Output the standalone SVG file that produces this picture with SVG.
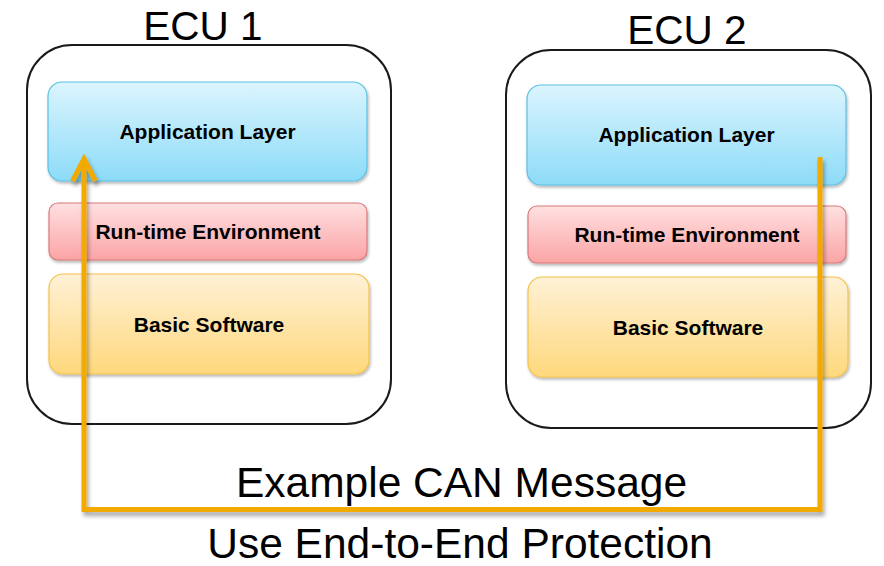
<svg xmlns="http://www.w3.org/2000/svg" width="884" height="566" viewBox="0 0 884 566">
  <style>
    .ecu { fill: #ffffff; stroke: #1a1a1a; stroke-width: 2; }
    .title { font-family: "Liberation Sans", Arial, sans-serif; font-size: 40.5px; fill: #000; text-anchor: middle; }
    .layer-text { font-family: "Liberation Sans", Arial, sans-serif; font-size: 21px; font-weight: bold; fill: #000; text-anchor: middle; }
    .caption { font-family: "Liberation Sans", Arial, sans-serif; font-size: 42.5px; fill: #000; text-anchor: middle; }
    .app { fill: url(#gApp); stroke: #5cc0e4; stroke-width: 1.2; filter: url(#shadow); }
    .rte { fill: url(#gRte); stroke: #d9797b; stroke-width: 1.2; filter: url(#shadow); }
    .bsw { fill: url(#gBsw); stroke: #f4c24a; stroke-width: 1.2; filter: url(#shadow); }
    .msg { fill: none; stroke: #f2a900; stroke-width: 5; stroke-linejoin: miter; filter: url(#lineShadow); }
  </style>
  <defs>
    <linearGradient id="gApp" x1="0" y1="0" x2="0" y2="1">
      <stop offset="0" stop-color="#dbf5fe"/>
      <stop offset="1" stop-color="#8ddbf8"/>
    </linearGradient>
    <linearGradient id="gRte" x1="0" y1="0" x2="0" y2="1">
      <stop offset="0" stop-color="#ffe0e1"/>
      <stop offset="1" stop-color="#fba4a5"/>
    </linearGradient>
    <linearGradient id="gBsw" x1="0" y1="0" x2="0" y2="1">
      <stop offset="0" stop-color="#fff1d6"/>
      <stop offset="1" stop-color="#fed87c"/>
    </linearGradient>
    <filter id="shadow" x="-5%" y="-10%" width="110%" height="125%">
      <feGaussianBlur in="SourceAlpha" stdDeviation="1.5"/>
      <feOffset dx="1" dy="2" result="b"/>
      <feComponentTransfer><feFuncA type="linear" slope="0.3"/></feComponentTransfer>
      <feMerge><feMergeNode/><feMergeNode in="SourceGraphic"/></feMerge>
    </filter>
    <filter id="lineShadow" x="-5%" y="-5%" width="110%" height="115%">
      <feGaussianBlur in="SourceAlpha" stdDeviation="2"/>
      <feOffset dx="2" dy="4" result="b"/>
      <feComponentTransfer><feFuncA type="linear" slope="0.35"/></feComponentTransfer>
      <feMerge><feMergeNode/><feMergeNode in="SourceGraphic"/></feMerge>
    </filter>
    <!-- open chevron arrowhead, pointing along the path direction -->
    <marker id="openArrow" markerUnits="userSpaceOnUse" markerWidth="34" markerHeight="34" refX="22" refY="15" orient="auto" viewBox="0 0 34 34">
      <path d="M2 3.5 L24 15 L2 26.5" fill="none" stroke="#f2a900" stroke-width="5" stroke-linejoin="miter"/>
    </marker>
  </defs>

  <!-- ECU 1 -->
  <g id="ecu1">
    <rect class="ecu" x="27" y="45" width="364" height="379" rx="45" ry="45"/>
    <text class="title" x="203" y="40">ECU 1</text>
    <g id="ecu1-app">
      <rect class="app" x="48" y="82" width="319" height="99" rx="14"/>
      <text class="layer-text" x="207.5" y="139">Application Layer</text>
    </g>
    <g id="ecu1-rte">
      <rect class="rte" x="49" y="203" width="318" height="57" rx="9"/>
      <text class="layer-text" x="208" y="239">Run-time Environment</text>
    </g>
    <g id="ecu1-bsw">
      <rect class="bsw" x="49" y="274" width="320" height="100" rx="14"/>
      <text class="layer-text" x="209" y="332">Basic Software</text>
    </g>
  </g>

  <!-- ECU 2 -->
  <g id="ecu2">
    <rect class="ecu" x="506" y="50" width="365" height="378" rx="45" ry="45"/>
    <text class="title" x="687" y="44">ECU 2</text>
    <g id="ecu2-app">
      <rect class="app" x="527" y="85" width="319" height="100" rx="14"/>
      <text class="layer-text" x="686.5" y="142">Application Layer</text>
    </g>
    <g id="ecu2-rte">
      <rect class="rte" x="528" y="206" width="318" height="57" rx="9"/>
      <text class="layer-text" x="687" y="242">Run-time Environment</text>
    </g>
    <g id="ecu2-bsw">
      <rect class="bsw" x="528" y="277" width="320" height="100" rx="14"/>
      <text class="layer-text" x="688" y="335">Basic Software</text>
    </g>
  </g>

  <!-- message path from ECU 2 application layer to ECU 1 application layer -->
  <g id="connectors">
    <path class="msg" d="M820 157 L820 509.5 L84 509.5 L84 161" marker-end="url(#openArrow)"/>
  </g>

  <text class="caption" x="461.5" y="497">Example CAN Message</text>
  <text class="caption" x="460" y="558">Use End-to-End Protection</text>
</svg>
